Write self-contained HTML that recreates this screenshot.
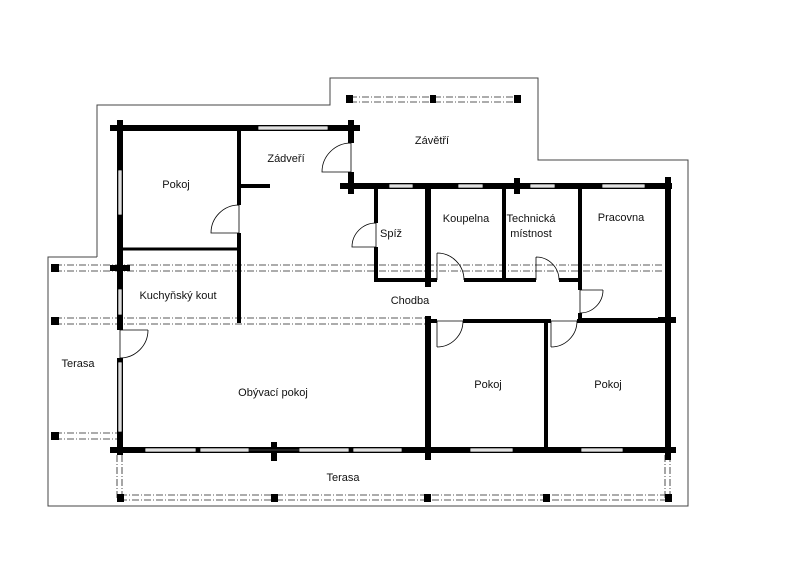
<!DOCTYPE html>
<html><head><meta charset="utf-8"><style>
html,body{margin:0;padding:0;background:#fff}
svg{display:block}
text{font-family:"Liberation Sans",sans-serif;font-size:11px;fill:#111;text-anchor:middle}
</style></head><body>
<svg width="800" height="565" viewBox="0 0 800 565" xmlns="http://www.w3.org/2000/svg">
<!-- outer outline -->
<polyline points="97,257 97,105 330,105 330,78 538,78 538,160 688,160 688,506 48,506 48,257 97,257" fill="none" stroke="#444" stroke-width="1"/>

<!-- dash-dot beam lines -->
<g stroke="#222" stroke-width="0.8" stroke-dasharray="7,2,1,2" fill="none">
<line x1="55" y1="265" x2="663" y2="265"/><line x1="55" y1="271" x2="663" y2="271"/>
<line x1="55" y1="318" x2="428" y2="318"/><line x1="55" y1="324" x2="428" y2="324"/>
<line x1="55" y1="433" x2="120" y2="433"/><line x1="55" y1="439" x2="120" y2="439"/>
<line x1="350" y1="97" x2="517" y2="97"/><line x1="350" y1="102" x2="517" y2="102"/>
<line x1="120" y1="495" x2="668" y2="495"/><line x1="120" y1="500" x2="668" y2="500"/>
<line x1="117" y1="455" x2="117" y2="498"/><line x1="122" y1="455" x2="122" y2="498"/>
<line x1="665" y1="455" x2="665" y2="498"/><line x1="670" y1="455" x2="670" y2="498"/>
</g>
<!-- posts -->
<g fill="#000">
<rect x="51" y="264" width="8" height="8"/><rect x="51" y="317" width="8" height="8"/><rect x="51" y="432" width="8" height="8"/>
<rect x="346" y="95" width="7" height="8"/><rect x="430" y="95" width="6" height="8"/><rect x="514" y="95" width="7" height="8"/>
<rect x="117" y="494" width="7" height="8"/><rect x="271" y="494" width="7" height="8"/><rect x="424" y="494" width="7" height="8"/><rect x="543" y="494" width="7" height="8"/><rect x="665" y="494" width="7" height="8"/>
</g>

<!-- walls -->
<g stroke="#000" stroke-linecap="butt" fill="none">
<g stroke-width="6">
<line x1="110" y1="128" x2="360" y2="128"/>
<line x1="120" y1="120" x2="120" y2="455"/>
<line x1="351" y1="120" x2="351" y2="194"/>
<line x1="340" y1="186" x2="672" y2="186"/>
<line x1="668" y1="177" x2="668" y2="460"/>
<line x1="428" y1="186" x2="428" y2="287"/>
<line x1="428" y1="316" x2="428" y2="460"/>
<line x1="110" y1="450" x2="676" y2="450"/>
<line x1="517" y1="178" x2="517" y2="194"/>
<line x1="274" y1="442" x2="274" y2="461"/>
<line x1="110" y1="268" x2="130" y2="268"/>
<line x1="658" y1="320" x2="676" y2="320"/>
</g>
<g stroke-width="4">
<line x1="239" y1="128" x2="239" y2="323"/>
<line x1="239" y1="186" x2="270" y2="186"/>
<line x1="376" y1="186" x2="376" y2="281"/>
<line x1="504" y1="186" x2="504" y2="281"/>
<line x1="580" y1="186" x2="580" y2="322"/>
<line x1="374" y1="280" x2="582" y2="280"/>
<line x1="428" y1="321" x2="668" y2="321"/>
<line x1="546" y1="321" x2="546" y2="450"/>
<line x1="580" y1="320" x2="668" y2="320"/>
</g>
<line x1="120" y1="249" x2="239" y2="249" stroke-width="3"/>
</g>

<!-- windows -->
<g fill="#fff" stroke="#000" stroke-width="0.8">
<rect x="258" y="126" width="70" height="4"/>
<rect x="389" y="184" width="24" height="4"/><rect x="458" y="184" width="25" height="4"/><rect x="530" y="184" width="25" height="4"/><rect x="602" y="184" width="43" height="4"/>
<rect x="118" y="170" width="4" height="45"/><rect x="118" y="289" width="4" height="26"/><rect x="118" y="362" width="4" height="70"/>
<rect x="145" y="448" width="51" height="4"/><rect x="200" y="448" width="49" height="4"/><rect x="299" y="448" width="50" height="4"/><rect x="353" y="448" width="49" height="4"/><rect x="470" y="448" width="43" height="4"/><rect x="581" y="448" width="42" height="4"/>
</g>
<g stroke="#888" stroke-width="0.6">
<line x1="258" y1="128" x2="328" y2="128"/>
<line x1="389" y1="186" x2="413" y2="186"/><line x1="458" y1="186" x2="483" y2="186"/><line x1="530" y1="186" x2="555" y2="186"/><line x1="602" y1="186" x2="645" y2="186"/>
<line x1="120" y1="170" x2="120" y2="215"/><line x1="120" y1="289" x2="120" y2="315"/><line x1="120" y1="362" x2="120" y2="432"/>
<line x1="145" y1="450" x2="402" y2="450"/><line x1="470" y1="450" x2="513" y2="450"/><line x1="581" y1="450" x2="623" y2="450"/>
</g>
<g fill="#000"><rect x="196" y="447" width="4" height="6"/><rect x="349" y="447" width="4" height="6"/></g>

<!-- doors: white gaps -->
<g fill="#fff">
<rect x="236" y="205" width="6" height="28"/>
<rect x="348" y="143" width="6" height="29"/>
<rect x="373" y="223" width="6" height="24"/>
<rect x="437" y="277" width="27" height="6"/>
<rect x="536" y="277" width="23" height="6"/>
<rect x="577" y="290" width="6" height="23"/>
<rect x="437" y="318" width="26" height="6"/>
<rect x="551" y="318" width="26" height="6"/>
<rect x="117" y="330" width="6" height="28"/>
</g>
<g stroke="#000" stroke-width="0.8" fill="none">
<path d="M239,233 V205 M239,205 A28,28 0 0 0 211,233 H239"/>
<path d="M351,172 V143 M351,143 A29,29 0 0 0 322,172 H351"/>
<path d="M376,247 V223 M376,223 A24,24 0 0 0 352,247 H376"/>
<path d="M437,280 V253 M437,253 A27,27 0 0 1 464,280"/>
<path d="M536,280 V257 M536,257 A23,23 0 0 1 559,280"/>
<path d="M580,290 H603 M580,313 V290 M603,290 A23,23 0 0 1 580,313"/>
<path d="M463,321 H437 V347 M463,321 A26,26 0 0 1 437,347"/>
<path d="M577,321 H551 V347 M577,321 A26,26 0 0 1 551,347"/>
<path d="M120,330 H148 M120,358 V330 M148,330 A28,28 0 0 1 120,358"/>
</g>

<!-- labels -->
<text x="176" y="188">Pokoj</text>
<text x="286" y="162">Zádveří</text>
<text x="432" y="144">Závětří</text>
<text x="391" y="237">Spíž</text>
<text x="466" y="222">Koupelna</text>
<text x="531" y="222">Technická</text>
<text x="531" y="237">místnost</text>
<text x="621" y="221">Pracovna</text>
<text x="178" y="299">Kuchyňský kout</text>
<text x="410" y="304">Chodba</text>
<text x="78" y="367">Terasa</text>
<text x="273" y="396">Obývací pokoj</text>
<text x="488" y="388">Pokoj</text>
<text x="608" y="388">Pokoj</text>
<text x="343" y="481">Terasa</text>
</svg>
</body></html>
